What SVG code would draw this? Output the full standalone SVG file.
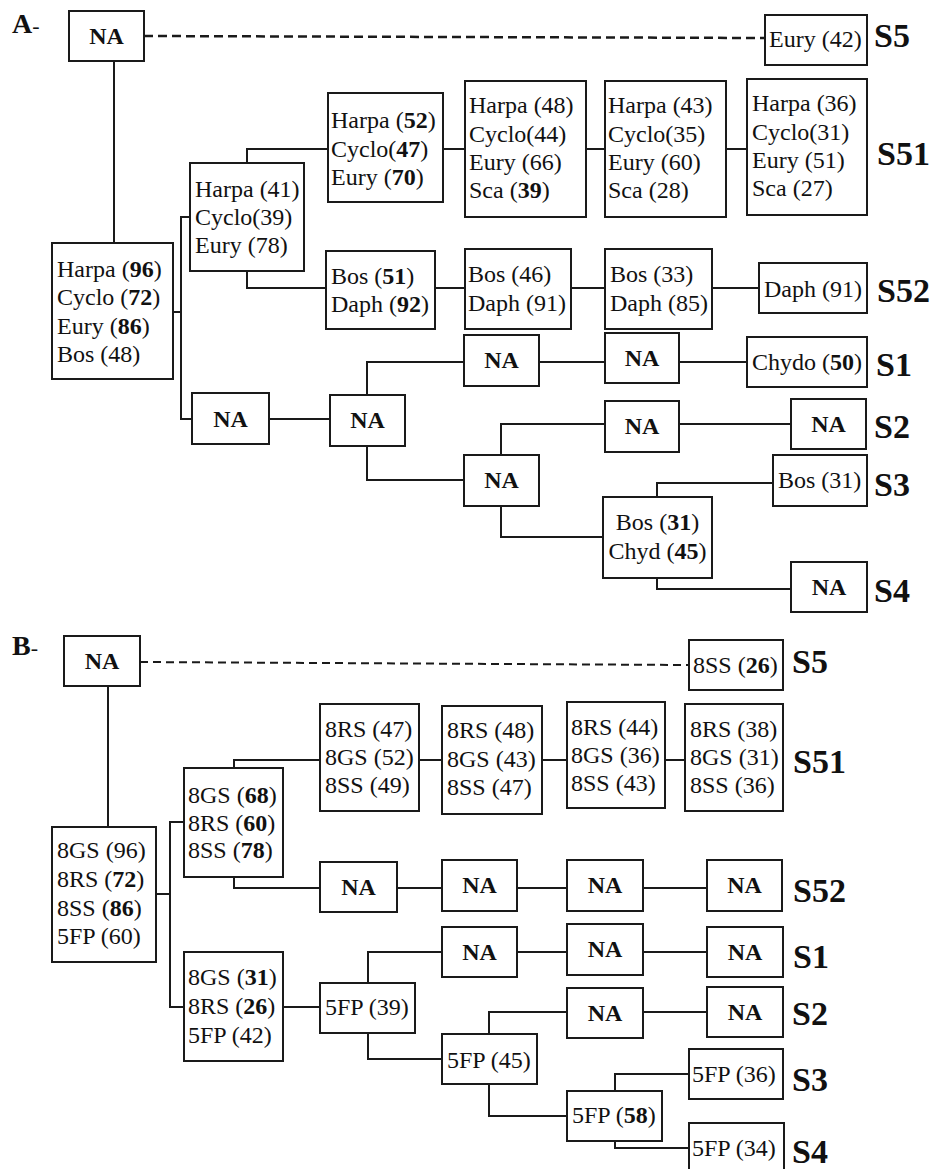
<svg xmlns="http://www.w3.org/2000/svg" width="936" height="1169" viewBox="0 0 936 1169">
<style>
rect{fill:#fff;stroke:#1a1a1a;stroke-width:2}
text{font-family:"Liberation Serif","Times New Roman",serif;font-size:24px;fill:#111}
.na{font-weight:bold;text-anchor:middle}
.c{text-anchor:middle}
.b{font-weight:bold}
.lab{font-weight:bold;font-size:34px}
.part{font-weight:bold;font-size:28px}
.con{fill:none;stroke:#1a1a1a;stroke-width:2}
.dash{fill:none;stroke:#1a1a1a;stroke-width:2.5;stroke-dasharray:9 5}
</style>
<rect x="0" y="0" width="936" height="1169" style="fill:#fff;stroke:none"/>
<text class="part" x="12" y="33">A<tspan style="font-weight:normal;font-size:22px">-</tspan></text>
<text class="part" x="12" y="655">B<tspan style="font-weight:normal;font-size:22px">-</tspan></text>
<g id="connectors">
<path class="dash" d="M144,36 L765,38"/>
<path class="con" d="M114,61 V243 M173,312 H181 M190,217 H181 V419 H192 M247,163 V149 H328 M247,271 V288 H326 M443,149 H465 M586,149 H605 M726,149 H747 M435,288 H465 M571,288 H605 M712,288 H759 M269,419 H330 M367,395 V362 H464 M367,446 V480 H464 M539,362 H605 M679,362 H747 M501,455 V424 H605 M679,424 H791 M501,506 V537 H603 M657,497 V483 H773 M657,578 V589 H791"/>
<path class="dash" style="stroke-width:2;stroke-dasharray:8 5" d="M140,662 L689,665"/>
<path class="con" d="M108,686 V827 M156,894 H170 M184,822 H170 V1007 H184 M234,768 V760 H320 M234,877 V888 H320 M419,760 H442 M542,760 H567 M665,760 H685 M397,888 H442 M517,888 H567 M643,888 H707 M283,1007 H320 M368,983 V952 H442 M517,952 H567 M643,952 H707 M368,1033 V1059 H442 M489,1034 V1012 H567 M643,1012 H707 M489,1084 V1116 H567 M615,1091 V1074 H689 M615,1141 V1148 H689"/>
</g>
<g id="a_root"><rect x="69" y="11" width="75" height="50"/><text class="na" x="106.5" y="44">NA</text></g>
<g id="a_s5"><rect x="765" y="15" width="102" height="50"/><text x="769" y="47">Eury (42)</text></g>
<text class="lab" x="874" y="47">S5</text>
<g id="a_main"><rect x="52" y="243" width="121" height="136"/>
<text x="57" y="277">Harpa (<tspan class="b">96</tspan>)</text>
<text x="57" y="305">Cyclo (<tspan class="b">72</tspan>)</text>
<text x="57" y="334">Eury (<tspan class="b">86</tspan>)</text>
<text x="57" y="362">Bos (48)</text></g>
<g id="a_41"><rect x="190" y="163" width="114" height="108"/>
<text x="195" y="197">Harpa (41)</text>
<text x="195" y="225">Cyclo(39)</text>
<text x="195" y="253">Eury (78)</text></g>
<g id="a_52"><rect x="328" y="93" width="115" height="109"/>
<text x="331" y="128">Harpa (<tspan class="b">52</tspan>)</text>
<text x="331" y="157">Cyclo(<tspan class="b">47</tspan>)</text>
<text x="331" y="185">Eury (<tspan class="b">70</tspan>)</text></g>
<g id="a_48"><rect x="465" y="81" width="121" height="136"/>
<text x="469" y="113">Harpa (48)</text>
<text x="469" y="142">Cyclo(44)</text>
<text x="469" y="170">Eury (66)</text>
<text x="469" y="198">Sca (<tspan class="b">39</tspan>)</text></g>
<g id="a_43"><rect x="605" y="81" width="121" height="136"/>
<text x="608" y="113">Harpa (43)</text>
<text x="608" y="142">Cyclo(35)</text>
<text x="608" y="170">Eury (60)</text>
<text x="608" y="198">Sca (28)</text></g>
<g id="a_36"><rect x="747" y="79" width="120" height="136"/>
<text x="752" y="111">Harpa (36)</text>
<text x="752" y="140">Cyclo(31)</text>
<text x="752" y="168">Eury (51)</text>
<text x="752" y="196">Sca (27)</text></g>
<text class="lab" x="877" y="165">S51</text>
<g id="a_51"><rect x="326" y="251" width="109" height="78"/>
<text x="331" y="284">Bos (<tspan class="b">51</tspan>)</text>
<text x="331" y="312">Daph (<tspan class="b">92</tspan>)</text></g>
<g id="a_46"><rect x="465" y="249" width="106" height="80"/>
<text x="468" y="282">Bos (46)</text>
<text x="468" y="311">Daph (91)</text></g>
<g id="a_33"><rect x="605" y="249" width="107" height="80"/>
<text x="610" y="282">Bos (33)</text>
<text x="610" y="311">Daph (85)</text></g>
<g id="a_s52"><rect x="759" y="263" width="108" height="50"/><text x="764" y="297">Daph (91)</text></g>
<text class="lab" x="877" y="302">S52</text>
<g id="a_na1"><rect x="192" y="393" width="77" height="51"/><text class="na" x="230.5" y="427">NA</text></g>
<g id="a_na2"><rect x="330" y="395" width="75" height="51"/><text class="na" x="367.5" y="428">NA</text></g>
<g id="a_na3"><rect x="464" y="335" width="75" height="51"/><text class="na" x="501.5" y="368">NA</text></g>
<g id="a_na4"><rect x="605" y="333" width="74" height="50"/><text class="na" x="642" y="366">NA</text></g>
<g id="a_s1"><rect x="747" y="337" width="120" height="50"/><text x="752" y="370">Chydo (<tspan class="b">50</tspan>)</text></g>
<text class="lab" x="876" y="376">S1</text>
<g id="a_na5"><rect x="464" y="455" width="75" height="51"/><text class="na" x="501.5" y="488">NA</text></g>
<g id="a_na6"><rect x="605" y="401" width="74" height="51"/><text class="na" x="642" y="434">NA</text></g>
<g id="a_s2"><rect x="791" y="399" width="75" height="50"/><text class="na" x="828.5" y="432">NA</text></g>
<text class="lab" x="874" y="438">S2</text>
<g id="a_bc"><rect x="603" y="497" width="109" height="81"/>
<text class="c" x="657.5" y="530">Bos (<tspan class="b">31</tspan>)</text>
<text class="c" x="657.5" y="559">Chyd (<tspan class="b">45</tspan>)</text></g>
<g id="a_s3"><rect x="773" y="455" width="94" height="51"/><text x="778" y="488">Bos (31)</text></g>
<text class="lab" x="874" y="496">S3</text>
<g id="a_s4"><rect x="791" y="562" width="76" height="50"/><text class="na" x="829" y="595">NA</text></g>
<text class="lab" x="874" y="602">S4</text>

<g id="b_root"><rect x="64" y="636" width="76" height="50"/><text class="na" x="102" y="669">NA</text></g>
<g id="b_s5"><rect x="689" y="640" width="94" height="50"/><text x="693" y="673">8SS (<tspan class="b">26</tspan>)</text></g>
<text class="lab" x="792" y="673">S5</text>
<g id="b_main"><rect x="52" y="827" width="104" height="135"/>
<text x="57" y="858">8GS (96)</text>
<text x="57" y="887">8RS (<tspan class="b">72</tspan>)</text>
<text x="57" y="916">8SS (<tspan class="b">86</tspan>)</text>
<text x="57" y="944">5FP (60)</text></g>
<g id="b_68"><rect x="184" y="768" width="99" height="109"/>
<text x="188" y="803">8GS (<tspan class="b">68</tspan>)</text>
<text x="188" y="831">8RS (<tspan class="b">60</tspan>)</text>
<text x="188" y="858">8SS (<tspan class="b">78</tspan>)</text></g>
<g id="b_47"><rect x="320" y="704" width="99" height="107"/>
<text x="325" y="737">8RS (47)</text>
<text x="325" y="765">8GS (52)</text>
<text x="325" y="793">8SS (49)</text></g>
<g id="b_48"><rect x="442" y="706" width="100" height="108"/>
<text x="447" y="738">8RS (48)</text>
<text x="447" y="767">8GS (43)</text>
<text x="447" y="795">8SS (47)</text></g>
<g id="b_44"><rect x="567" y="702" width="98" height="106"/>
<text x="571" y="735">8RS (44)</text>
<text x="571" y="763">8GS (36)</text>
<text x="571" y="791">8SS (43)</text></g>
<g id="b_38"><rect x="685" y="704" width="98" height="107"/>
<text x="690" y="737">8RS (38)</text>
<text x="690" y="765">8GS (31)</text>
<text x="690" y="793">8SS (36)</text></g>
<text class="lab" x="793" y="773">S51</text>
<g id="b_na52_1"><rect x="320" y="862" width="77" height="50"/><text class="na" x="358.5" y="895">NA</text></g>
<g id="b_na52_2"><rect x="442" y="860" width="75" height="51"/><text class="na" x="479.5" y="893">NA</text></g>
<g id="b_na52_3"><rect x="567" y="860" width="76" height="51"/><text class="na" x="605" y="893">NA</text></g>
<g id="b_na52_4"><rect x="707" y="860" width="75" height="51"/><text class="na" x="744.5" y="893">NA</text></g>
<text class="lab" x="793" y="902">S52</text>
<g id="b_31"><rect x="184" y="952" width="99" height="109"/>
<text x="188" y="985">8GS (<tspan class="b">31</tspan>)</text>
<text x="188" y="1014">8RS (<tspan class="b">26</tspan>)</text>
<text x="188" y="1043">5FP (42)</text></g>
<g id="b_39"><rect x="320" y="983" width="95" height="50"/><text x="325" y="1015">5FP (39)</text></g>
<g id="b_na1_1"><rect x="442" y="927" width="75" height="50"/><text class="na" x="479.5" y="960">NA</text></g>
<g id="b_na1_2"><rect x="567" y="924" width="76" height="51"/><text class="na" x="605" y="957">NA</text></g>
<g id="b_na1_3"><rect x="707" y="927" width="76" height="50"/><text class="na" x="745" y="960">NA</text></g>
<text class="lab" x="793" y="968">S1</text>
<g id="b_45"><rect x="442" y="1034" width="95" height="50"/><text x="447" y="1068">5FP (45)</text></g>
<g id="b_na2_1"><rect x="567" y="988" width="76" height="50"/><text class="na" x="605" y="1021">NA</text></g>
<g id="b_na2_2"><rect x="707" y="987" width="76" height="50"/><text class="na" x="745" y="1020">NA</text></g>
<text class="lab" x="792" y="1025">S2</text>
<g id="b_58"><rect x="567" y="1091" width="95" height="50"/><text x="572" y="1123">5FP (<tspan class="b">58</tspan>)</text></g>
<g id="b_36"><rect x="689" y="1049" width="94" height="50"/><text x="692" y="1082">5FP (36)</text></g>
<text class="lab" x="792" y="1091">S3</text>
<g id="b_34"><rect x="689" y="1123" width="95" height="52"/><text x="692" y="1156">5FP (34)</text></g>
<text class="lab" x="792" y="1163">S4</text>
</svg>
